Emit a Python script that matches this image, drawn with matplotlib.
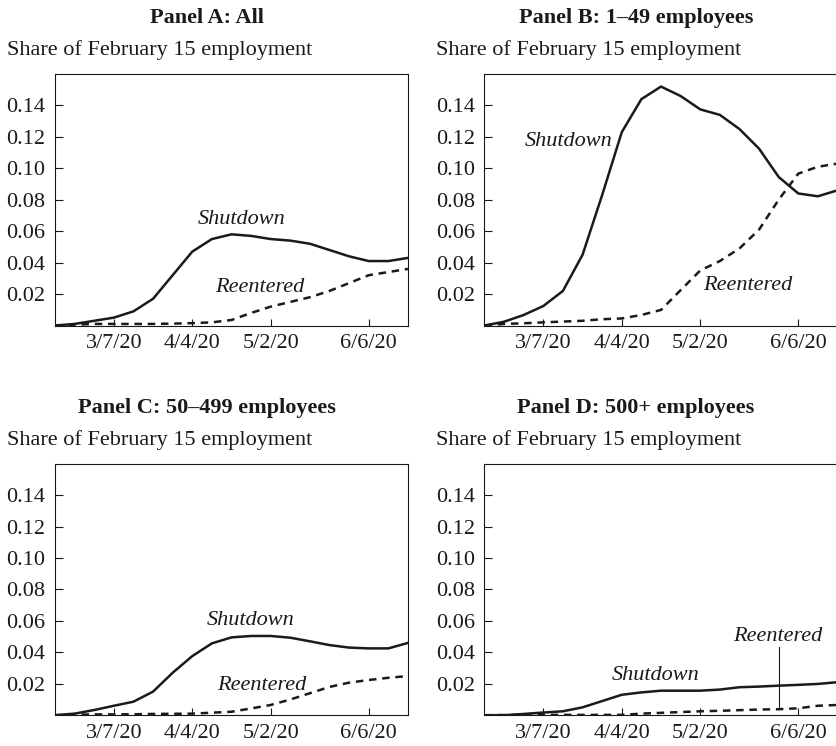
import matplotlib
matplotlib.use('Agg')
import matplotlib.pyplot as plt
import numpy as np

plt.rcParams['font.family'] = ['Liberation Serif', 'DejaVu Serif']
plt.rcParams['font.size'] = 16

# weekly points, Feb 15 to Jun 20 2020 (index 0..18)
weeks = np.arange(19)
tick_idx = [3, 7, 11, 16]
tick_labels = ['3/7/20', '4/4/20', '5/2/20', '6/6/20']
y_ticks = [0.02, 0.04, 0.06, 0.08, 0.10, 0.12, 0.14]

# Panel A: All
a_shut = [0.000, 0.001, 0.003, 0.005, 0.009, 0.017, 0.032, 0.047, 0.055, 0.058,
          0.057, 0.055, 0.054, 0.052, 0.048, 0.044, 0.041, 0.041, 0.043]
a_reent = [0.000, 0.0005, 0.001, 0.001, 0.001, 0.001, 0.0012, 0.0015, 0.002, 0.0035,
           0.008, 0.012, 0.015, 0.018, 0.022, 0.027, 0.032, 0.034, 0.036]
# Panel B: 1-49 employees
b_shut = [0.000, 0.0024, 0.0067, 0.0124, 0.022, 0.045, 0.083, 0.123, 0.144, 0.152,
          0.146, 0.1375, 0.134, 0.125, 0.1125, 0.0945, 0.084, 0.0822, 0.086]
b_reent = [0.000, 0.001, 0.0014, 0.002, 0.0025, 0.003, 0.004, 0.0045, 0.0067, 0.0099,
           0.0225, 0.035, 0.041, 0.049, 0.061, 0.080, 0.0966, 0.101, 0.103]
# Panel C: 50-499 employees
c_shut = [0.000, 0.001, 0.0033, 0.006, 0.0086, 0.015, 0.027, 0.0376, 0.0457, 0.0495,
          0.0504, 0.0504, 0.0493, 0.047, 0.0446, 0.043, 0.0425, 0.0425, 0.046]
c_reent = [0.000, 0.0003, 0.0005, 0.0005, 0.0006, 0.0008, 0.0009, 0.001, 0.0016, 0.0022,
           0.0043, 0.0065, 0.010, 0.014, 0.018, 0.0207, 0.0224, 0.0238, 0.0249]
# Panel D: 500+ employees
d_shut = [0.000, 0.000, 0.0008, 0.0017, 0.0025, 0.005, 0.009, 0.013, 0.0145, 0.0156,
          0.0156, 0.0156, 0.0163, 0.0178, 0.0182, 0.0188, 0.0193, 0.0199, 0.021]
d_reent = [0.000, 0.0001, 0.0001, 0.0002, 0.0002, 0.0002, 0.0002, 0.0002, 0.001, 0.0015,
           0.002, 0.0025, 0.0028, 0.0032, 0.0036, 0.0038, 0.0044, 0.006, 0.0065]

titles = ['Panel A: All', 'Panel B: 1\u201349 employees',
          'Panel C: 50\u2013499 employees', 'Panel D: 500+ employees']
shut = [a_shut, b_shut, c_shut, d_shut]
reent = [a_reent, b_reent, c_reent, d_reent]
# label positions (week index, value)
shut_lab = [(9.5, 0.0676), (4.3, 0.1173), (9.96, 0.060), (8.74, 0.0255)]
reent_lab = [(10.43, 0.0243), (13.41, 0.0257), (10.56, 0.0192), (14.95, 0.0498)]

fig = plt.figure(figsize=(8.37, 7.46), dpi=100)
W, H = 837, 746
ax_pos = [(55, 325.5), (484.5, 325.5), (55, 715.2), (484.5, 715.2)]
title_pos = [(207, 18, 7, 50), (636, 18, 436, 50), (207, 408, 7, 440), (636, 408, 436, 440)]
ink = '#1a1a1a'

for k in range(4):
    lx, by = ax_pos[k]
    ax = fig.add_axes([lx / W, (H - by) / H, 353 / W, 251.5 / H])
    ax.plot(weeks, shut[k], color=ink, lw=1.8, solid_joinstyle='miter')
    ax.plot(weeks, reent[k], color=ink, lw=1.8, linestyle=(0, (3.0, 2.3)))
    ax.set_xlim(0, 18)
    ax.set_ylim(0, 0.16)
    ax.set_xticks(tick_idx)
    ax.set_xticklabels(tick_labels)
    ax.set_yticks(y_ticks)
    ax.set_yticklabels(['%.2f' % v for v in y_ticks])
    ax.tick_params(axis='y', direction='in', length=6, width=0.8, pad=7, colors=ink)
    ax.tick_params(axis='x', direction='in', length=5, width=0.8, pad=6, colors=ink)
    for s in ax.spines.values():
        s.set_linewidth(0.8)
        s.set_color(ink)
    ax.text(shut_lab[k][0], shut_lab[k][1], 'Shutdown', style='italic',
            ha='center', va='center', color=ink)
    ax.text(reent_lab[k][0], reent_lab[k][1], 'Reentered', style='italic',
            ha='center', va='center', color=ink)
    tx, ty, sx, sy = title_pos[k]
    fig.text(tx / W, 1 - ty / H, titles[k], ha='center', va='center',
             fontweight='bold', color=ink)
    fig.text(sx / W, 1 - sy / H, 'Share of February 15 employment',
             ha='left', va='center', color=ink)
    if k == 3:
        # pointer line from the reentered curve up to its label
        ax.plot([15, 15], [d_reent[15], 0.0435], color=ink, lw=0.8)

fig.savefig('out.png', dpi=100)
